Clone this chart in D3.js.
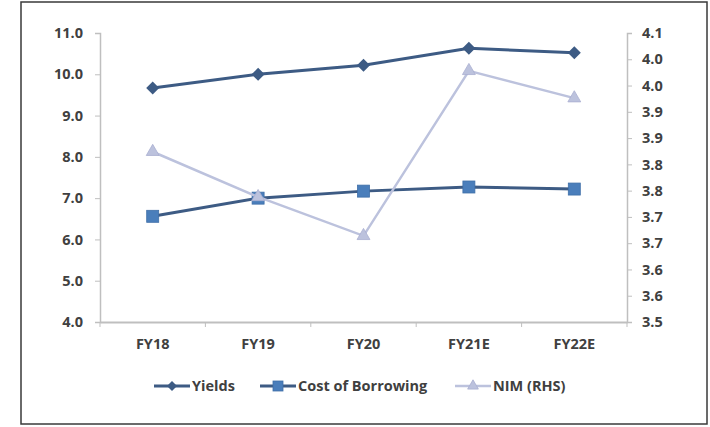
<!DOCTYPE html>
<html>
<head>
<meta charset="utf-8">
<script src="https://cdn.jsdelivr.net/npm/d3@7"></script>
<style>
  html, body { margin: 0; padding: 0; background: #fff; }
  svg { display: block; }
  text { font-family: "Open Sans", Lato, "Liberation Sans", sans-serif; font-weight: bold; fill: #404040; }
</style>
</head>
<body>
<svg id="chart" width="710" height="427"></svg>
<script>
// Fiscal years on the x axis
const categories = ["FY18", "FY19", "FY20", "FY21E", "FY22E"];

// Left-axis series (%)
const yields = [9.67, 10.0, 10.22, 10.63, 10.52];
const costOfBorrowing = [6.56, 7.0, 7.17, 7.27, 7.22];

// Right-axis series (%)
const nim = [3.824, 3.738, 3.664, 3.978, 3.926];

// Tick values and their printed labels
const leftTicks = [4, 5, 6, 7, 8, 9, 10, 11];
const rightTicks = [3.50, 3.55, 3.60, 3.65, 3.70, 3.75, 3.80, 3.85, 3.90, 3.95, 4.00, 4.05];
const rightTickLabels = ["3.5", "3.6", "3.6", "3.7", "3.7", "3.8", "3.8", "3.9", "3.9", "4.0", "4.0", "4.1"];

const legendNames = ["Yields", "Cost of Borrowing", "NIM (RHS)"];

const svg = d3.select("#chart");
const FONT = '"Open Sans", Lato, "Liberation Sans", sans-serif';

// outer frame
svg.append("rect")
  .attr("x", 21).attr("y", 2).attr("width", 686).attr("height", 422)
  .attr("fill", "#fff").attr("stroke", "#3a3a3a").attr("stroke-width", 1.5);

const plot = { left: 100, right: 627, top: 33, bottom: 322 };

const x = d3.scaleBand().domain(categories).range([plot.left, plot.right]);
const yL = d3.scaleLinear().domain([4, 11]).range([plot.bottom, plot.top]);
const yR = d3.scaleLinear().domain([3.5, 4.05]).range([plot.bottom, plot.top]);

const axisColor = "#bfbfbf";
const fontSize = 14.5;

// left axis
const gL = svg.append("g").attr("transform", `translate(${plot.left},0)`)
  .call(d3.axisLeft(yL).tickValues(leftTicks).tickFormat(d3.format(".1f")).tickSize(5).tickPadding(12));
// right axis
const gR = svg.append("g").attr("transform", `translate(${plot.right},0)`)
  .call(d3.axisRight(yR).tickValues(rightTicks).tickFormat((d, i) => rightTickLabels[i]).tickSize(5).tickPadding(10));
// category axis with boundary ticks
const gX = svg.append("g").attr("transform", `translate(0,${plot.bottom})`)
  .call(d3.axisBottom(x).tickSize(0).tickPadding(17));
gX.selectAll(".bnd").data(categories.concat([null])).enter().append("line")
  .attr("x1", (d, i) => plot.left + i * x.step()).attr("x2", (d, i) => plot.left + i * x.step())
  .attr("y1", 0).attr("y2", 5).attr("stroke", axisColor).attr("stroke-width", 1);

[gL, gR, gX].forEach(g => {
  g.select(".domain").attr("stroke", axisColor).attr("stroke-width", 1.5);
  g.selectAll(".tick line").attr("stroke", axisColor);
  g.selectAll("text").attr("font-size", fontSize).attr("fill", "#404040")
    .style("font-family", FONT).style("font-weight", "bold");
});
gX.select(".domain").attr("stroke-width", 2);

const cx = d => x(d) + x.bandwidth() / 2;

const series = [
  { name: legendNames[0], values: yields, scale: yL, color: "#3d5b84", marker: "diamond", width: 3 },
  { name: legendNames[1], values: costOfBorrowing, scale: yL, color: "#4a7ebb", marker: "square", width: 3, lineColor: "#3d5b84" },
  { name: legendNames[2], values: nim, scale: yR, color: "#bcc2dd", marker: "triangle", width: 2.5 }
];

function drawMarker(g, type, color, px, py, s) {
  if (type === "diamond") {
    const h = s / 2;
    g.append("path").attr("d", `M0,${-h}L${h},0L0,${h}L${-h},0Z`)
      .attr("transform", `translate(${px},${py})`).attr("fill", color);
  } else if (type === "square") {
    g.append("rect").attr("x", px - s / 2).attr("y", py - s / 2).attr("width", s).attr("height", s)
      .attr("fill", color).attr("stroke", "#3f6fa8").attr("stroke-width", 0.8);
  } else {
    g.append("path").attr("d", d3.symbol(d3.symbolTriangle, s * s * 0.5)())
      .attr("transform", `translate(${px},${py})`).attr("fill", color).attr("stroke", "#a9afd0").attr("stroke-width", 0.8);
  }
}

series.forEach(s => {
  const line = d3.line().x((d, i) => cx(categories[i])).y(d => s.scale(d));
  svg.append("path").datum(s.values).attr("d", line)
    .attr("fill", "none").attr("stroke", s.lineColor || s.color).attr("stroke-width", s.width);
  const g = svg.append("g");
  s.values.forEach((v, i) => drawMarker(g, s.marker, s.color, cx(categories[i]), s.scale(v), s.marker === "diamond" ? 13 : 12));
});

// legend
const legendY = 386;
const legendX = [154, 260, 455];
const legend = svg.append("g");
series.forEach((s, i) => {
  const lx = legendX[i];
  legend.append("line").attr("x1", lx).attr("x2", lx + 36).attr("y1", legendY).attr("y2", legendY)
    .attr("stroke", s.lineColor || s.color).attr("stroke-width", s.width);
  drawMarker(legend, s.marker, s.color, lx + 18, legendY, 10);
  legend.append("text").attr("x", lx + 38).attr("y", legendY).attr("dy", "0.35em")
    .attr("font-size", fontSize).text(s.name);
});
</script>
</body>
</html>
